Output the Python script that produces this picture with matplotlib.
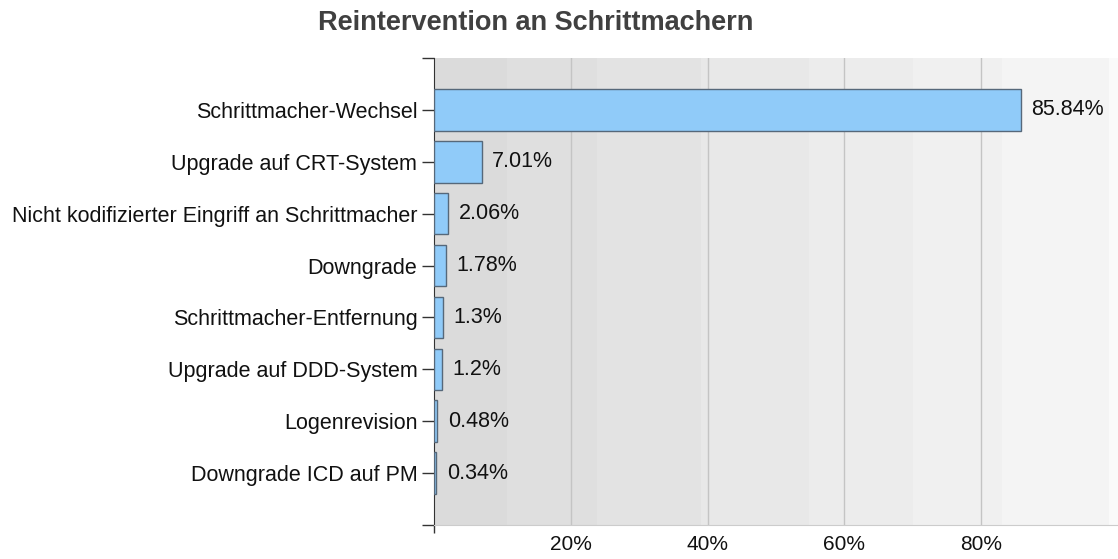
import matplotlib
matplotlib.use("Agg")
import matplotlib.pyplot as plt
from matplotlib.ticker import FixedLocator

plt.rcParams['font.family'] = ['Liberation Sans', 'DejaVu Sans']

title = "Reintervention an Schrittmachern"
categories = [
    "Schrittmacher-Wechsel",
    "Upgrade auf CRT-System",
    "Nicht kodifizierter Eingriff an Schrittmacher",
    "Downgrade",
    "Schrittmacher-Entfernung",
    "Upgrade auf DDD-System",
    "Logenrevision",
    "Downgrade ICD auf PM",
]
values = [85.84, 7.01, 2.06, 1.78, 1.3, 1.2, 0.48, 0.34]
x_ticks = [20, 40, 60, 80]
x_tick_labels = ["20%", "40%", "60%", "80%"]

# background band styling
band_edges = [0, 10.7, 23.9, 39.1, 54.8, 70.0, 83.0, 98.7, 100]
band_colors = ["#dbdbdb", "#dfdfdf", "#e3e3e3", "#e8e8e8", "#ececec",
               "#f0f0f0", "#f4f4f4", "#fafafa"]

FS = 15.5

fig = plt.figure(figsize=(11.18, 5.59), dpi=100)
ax = fig.add_axes([434/1118, 1-525/559, 1-434/1118, (525-58)/559])

for i in range(len(band_colors)):
    ax.axvspan(band_edges[i], band_edges[i+1], color=band_colors[i], lw=0, zorder=0)

n = len(categories)
ypos = list(range(1, n + 1))
ax.barh(ypos, values, height=0.8, color="#90cbf9", edgecolor="#56687a",
        linewidth=1.0, zorder=3)
for y, v in zip(ypos, values):
    ax.annotate(f"{v:g}%", xy=(v, y), xytext=(7.5, 0), textcoords="offset points",
                va="center", ha="left", fontsize=FS, color="#111111", zorder=4)

ax.set_xlim(0, 100)
ax.set_ylim(n + 1, 0)
ax.set_yticks(list(range(0, n + 2)))
ax.set_yticklabels([""] + categories + [""], fontsize=FS, color="#111111")
ax.tick_params(axis='y', length=9, width=1, color="#333333", pad=3)

ax.set_xticks(x_ticks)
ax.set_xticklabels(x_tick_labels, fontsize=15, color="#111111")
ax.tick_params(axis='x', length=0, pad=7)
ax.xaxis.set_minor_locator(FixedLocator([0]))
ax.tick_params(axis='x', which='minor', length=6, width=1, color="#333333")
ax.grid(axis='x', color="#c4c4c4", linewidth=1, zorder=1)
ax.set_axisbelow(True)

for s in ["top", "right"]:
    ax.spines[s].set_visible(False)
ax.spines["left"].set_color("#333333")
ax.spines["bottom"].set_color("#cccccc")

fig.text(535.5/1118, 1-23/559, title, ha="center", va="center",
         fontsize=19.5, fontweight="bold", color="#404040")

fig.savefig("out.png", dpi=100)
